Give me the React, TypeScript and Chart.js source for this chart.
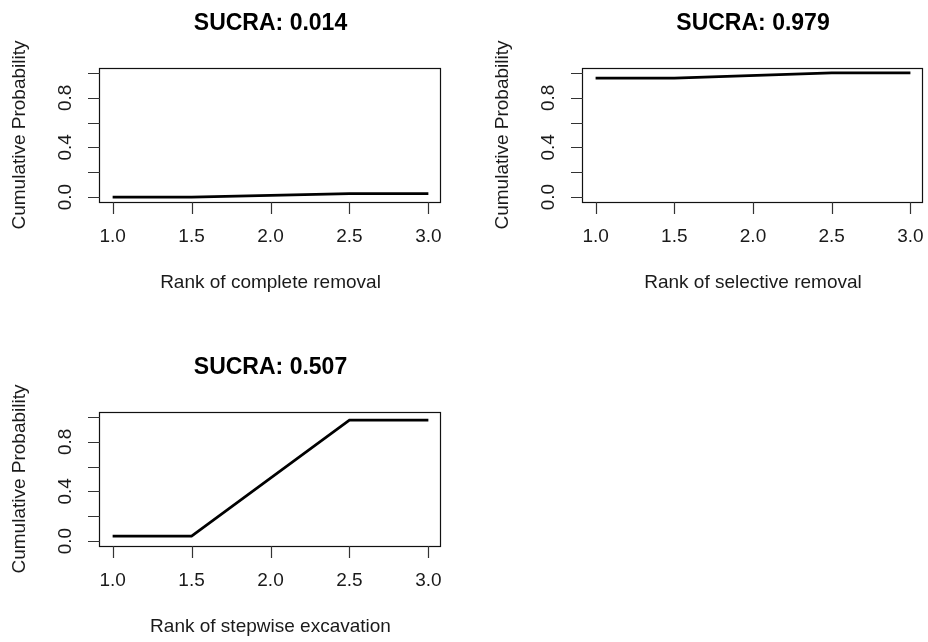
import React, { useEffect, useRef } from "react";
import { Chart, registerables } from "chart.js";

Chart.register(...registerables);

// ---- data ----
const ranks = [1, 1.5, 2.5, 3];
const completeRemoval = [0.0, 0.0, 0.028, 0.028];
const selectiveRemoval = [0.958, 0.958, 1.0, 1.0];
const stepwiseExcavation = [0.04, 0.04, 0.974, 0.974];

const xTicks = [1, 1.5, 2, 2.5, 3];
const xTickLabels = ["1.0", "1.5", "2.0", "2.5", "3.0"];
const yTicks = [0, 0.2, 0.4, 0.6, 0.8, 1.0];
const yTickLabels = ["0.0", "", "0.4", "", "0.8", ""];

const titles = ["SUCRA: 0.014", "SUCRA: 0.979", "SUCRA: 0.507"];
const xTitles = [
  "Rank of complete removal",
  "Rank of selective removal",
  "Rank of stepwise excavation",
];
const yTitle = "Cumulative Probability";

const FONT = '"Liberation Sans", Arial, Helvetica, sans-serif';
const TEXT = "#1a1a1a";

const rPlot = {
  id: "rPlot",
  afterDraw(chart: any, _args: any, opts: any) {
    const { ctx, chartArea: a, scales } = chart;
    const xs = scales.x;
    const ys = scales.y;
    ctx.save();
    // box
    ctx.strokeStyle = "#111";
    ctx.lineWidth = 1.2;
    ctx.strokeRect(a.left - 0.5, a.top + 0.5, a.right - a.left, a.bottom - a.top);
    // ticks
    ctx.strokeStyle = "#333";
    ctx.lineWidth = 1.2;
    ctx.beginPath();
    xTicks.forEach((v) => {
      const px = Math.round(xs.getPixelForValue(v)) + 0.5;
      ctx.moveTo(px, a.bottom);
      ctx.lineTo(px, a.bottom + 12);
    });
    yTicks.forEach((v) => {
      const py = Math.round(ys.getPixelForValue(v)) + 0.5;
      ctx.moveTo(a.left, py);
      ctx.lineTo(a.left - 12, py);
    });
    ctx.stroke();
    // tick labels
    ctx.fillStyle = TEXT;
    ctx.font = `19px ${FONT}`;
    ctx.textAlign = "center";
    ctx.textBaseline = "middle";
    xTicks.forEach((v, i) => {
      ctx.fillText(xTickLabels[i], xs.getPixelForValue(v), a.bottom + 35);
    });
    yTicks.forEach((v, i) => {
      if (!yTickLabels[i]) return;
      ctx.save();
      ctx.translate(a.left - 34, ys.getPixelForValue(v));
      ctx.rotate(-Math.PI / 2);
      ctx.fillText(yTickLabels[i], 0, 0);
      ctx.restore();
    });
    // axis titles
    const cx = (a.left + a.right) / 2;
    const cy = (a.top + a.bottom) / 2;
    ctx.fillText(opts.xTitle, cx, a.bottom + 81);
    ctx.save();
    ctx.translate(a.left - 80, cy);
    ctx.rotate(-Math.PI / 2);
    ctx.fillText(yTitle, 0, 0);
    ctx.restore();
    // main title
    ctx.fillStyle = "#000";
    ctx.font = `bold 23px ${FONT}`;
    ctx.fillText(opts.title, cx, a.top - 44);
    ctx.restore();
  },
};

type PanelProps = {
  values: number[];
  title: string;
  xTitle: string;
  left: number;
  top: number;
  pad: { left: number; top: number; right: number; bottom: number };
};

function Panel({ values, title, xTitle, left, top, pad }: PanelProps) {
  const ref = useRef<HTMLCanvasElement | null>(null);
  useEffect(() => {
    if (!ref.current) return;
    const chart = new Chart(ref.current, {
      type: "line",
      data: {
        datasets: [
          {
            data: ranks.map((r, i) => ({ x: r, y: values[i] })),
            borderColor: "#000",
            borderWidth: 2.7,
            borderCapStyle: "butt",
            pointRadius: 0,
            tension: 0,
            fill: false,
          },
        ],
      },
      options: {
        animation: false,
        responsive: false,
        maintainAspectRatio: false,
        layout: { padding: pad },
        scales: {
          x: { type: "linear", min: 0.92, max: 3.08, display: false },
          y: { type: "linear", min: -0.04, max: 1.04, display: false },
        },
        plugins: {
          legend: { display: false },
          tooltip: { enabled: false },
          rPlot: { title, xTitle },
        } as any,
      },
      plugins: [rPlot],
    } as any);
    return () => chart.destroy();
  }, []);
  return (
    <canvas
      ref={ref}
      width={464}
      height={321}
      style={{ position: "absolute", left, top, width: 464, height: 321 }}
    />
  );
}

export default function App() {
  return (
    <div
      style={{
        position: "absolute",
        left: 0,
        top: 0,
        width: 928,
        height: 642,
        background: "#fff",
        overflow: "hidden",
      }}
    >
      <Panel
        values={completeRemoval}
        title={titles[0]}
        xTitle={xTitles[0]}
        left={0}
        top={0}
        pad={{ left: 100, top: 68, right: 23, bottom: 119 }}
      />
      <Panel
        values={selectiveRemoval}
        title={titles[1]}
        xTitle={xTitles[1]}
        left={464}
        top={0}
        pad={{ left: 119, top: 68, right: 5, bottom: 119 }}
      />
      <Panel
        values={stepwiseExcavation}
        title={titles[2]}
        xTitle={xTitles[2]}
        left={0}
        top={321}
        pad={{ left: 100, top: 91, right: 23, bottom: 96 }}
      />
    </div>
  );
}
